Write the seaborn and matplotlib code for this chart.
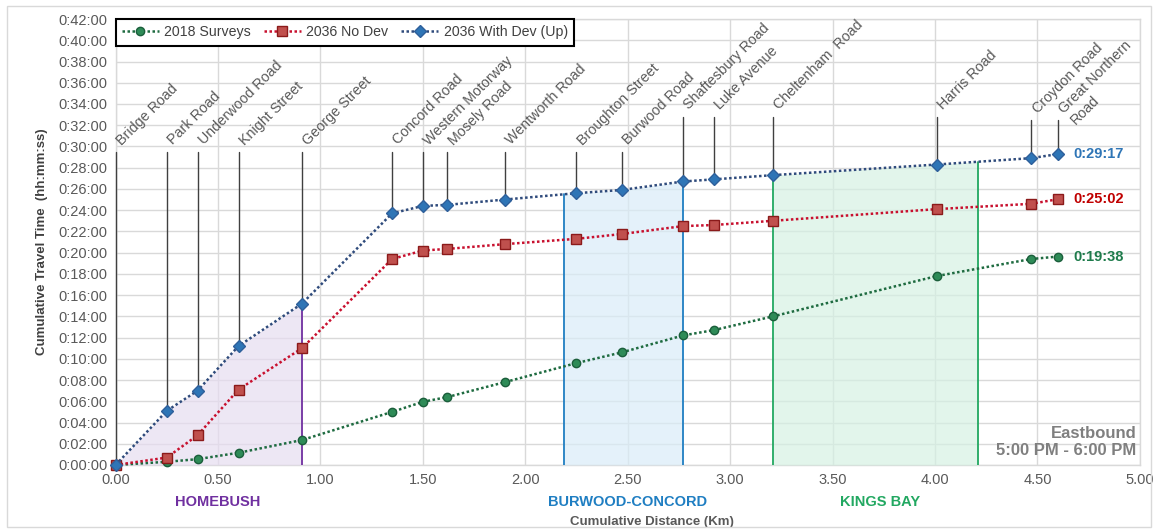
import numpy as np
import pandas as pd
import matplotlib
matplotlib.use("Agg")
import matplotlib.pyplot as plt
import seaborn as sns
from matplotlib.ticker import FuncFormatter, MultipleLocator
from matplotlib.patches import Rectangle

# ---------------- data ----------------
stations = ["Bridge Road", "Park Road", "Underwood Road", "Knight Street", "George Street",
            "Concord Road", "Western Motorway", "Mosely Road", "Wentworth Road",
            "Broughton Street", "Burwood Road", "Shaftesbury Road", "Luke Avenue",
            "Cheltenham  Road", "Harris Road", "Croydon Road", "Great Northern\nRoad"]
distance_km = [0.00, 0.25, 0.40, 0.60, 0.91, 1.35, 1.50, 1.62, 1.90,
               2.25, 2.47, 2.77, 2.92, 3.21, 4.01, 4.47, 4.60]
surveys_2018_min = [0.0, 0.3, 0.55, 1.15, 2.35, 5.0, 5.95, 6.4, 7.8,
                    9.6, 10.6, 12.2, 12.7, 14.0, 17.8, 19.4, 19.63]
no_dev_2036_min = [0.0, 0.7, 2.8, 7.1, 11.0, 19.4, 20.2, 20.35, 20.8,
                   21.3, 21.75, 22.5, 22.6, 23.0, 24.1, 24.6, 25.03]
with_dev_2036_min = [0.0, 5.1, 7.0, 11.2, 15.2, 23.7, 24.4, 24.5, 25.0,
                     25.6, 25.9, 26.7, 26.9, 27.3, 28.3, 28.9, 29.28]
series_names = ["2018 Surveys", "2036 No Dev", "2036 With Dev (Up)"]
final_labels = ["0:19:38", "0:25:02", "0:29:17"]

zone_names = ["HOMEBUSH", "BURWOOD-CONCORD", "KINGS BAY"]
zone_start_km = [0.00, 2.19, 3.21]
zone_end_km = [0.91, 2.77, 4.21]

# ---------------- styles ----------------
sns.set_theme(style="whitegrid")
plt.rcParams["font.family"] = ["Liberation Sans", "DejaVu Sans"]

line_colors = ["#1E6B40", "#C8102E", "#2F4B7C"]
marker_face = ["#2E8B57", "#C0504D", "#2E75B6"]
marker_edge = ["#1B5E3B", "#8B1A1A", "#2E5F9A"]
markers = ["o", "s", "D"]
msizes = [6, 7, 6]
label_colors = ["#1E7B4B", "#C00000", "#2E75B6"]
zone_line_colors = ["#7030A0", "#1F7EC2", "#22A861"]
zone_fill_colors = ["#E6DDF0", "#D9ECF8", "#D6F1E3"]

fig = plt.figure(figsize=(11.56, 5.29), dpi=100)
ax = fig.add_axes([0.100, 0.121, 0.886, 0.843])
ax.set_facecolor("white")

x = np.array(distance_km)
blue = np.array(with_dev_2036_min)

# zone shading under the "with dev" curve
for name, s, e, lc, fc in zip(zone_names, zone_start_km, zone_end_km, zone_line_colors, zone_fill_colors):
    xs = np.concatenate([[s], x[(x > s) & (x < e)], [e]])
    ys = np.interp(xs, x, blue)
    ax.fill_between(xs, 0, ys, color=fc, alpha=0.7, zorder=1, linewidth=0)
    for xb in (s, e):
        if xb > 0:
            ax.plot([xb, xb], [0, np.interp(xb, x, blue)], color=lc, lw=1.3, zorder=3)
    ax.text((s + e) / 2 + (0.045 if s == 0 else 0.02), -0.082, name,
            transform=ax.get_xaxis_transform(),
            ha="center", va="center", color=lc, fontsize=10.5, fontweight="bold")

# station leader lines and labels
fs_st = 10.3
for st, xd, yb in zip(stations, distance_km, with_dev_2036_min):
    top = 29.5 if xd < 2.6 else (32.8 if xd < 4.3 else 32.5)
    ax.plot([xd, xd], [yb, top], color="#404040", lw=1.0, zorder=3, clip_on=False)
    lh = fs_st * 1.15
    for k, part in enumerate(st.split("\n")):
        off = (k * lh * np.sin(np.pi / 4), -k * lh * np.cos(np.pi / 4))
        ax.annotate(part, (xd + 0.03, top + 0.6), xytext=off, textcoords="offset points",
                    rotation=45, rotation_mode="anchor", ha="left", va="baseline",
                    fontsize=fs_st, color="#595959", zorder=5)

# series
series = [surveys_2018_min, no_dev_2036_min, with_dev_2036_min]
for i, (name, vals) in enumerate(zip(series_names, series)):
    df = pd.DataFrame({"km": distance_km, "min": vals})
    sns.lineplot(data=df, x="km", y="min", ax=ax, color=line_colors[i], linestyle=(0, (1, 1)),
                 lw=1.8, marker=markers[i], markersize=msizes[i], markerfacecolor=marker_face[i],
                 markeredgecolor=marker_edge[i], markeredgewidth=1.0, label=name, zorder=4 + i,
                 sort=False, estimator=None, clip_on=False)
    ax.annotate(final_labels[i], (distance_km[-1], vals[-1]), xytext=(11, 0),
                textcoords="offset points", ha="left", va="center", color=label_colors[i],
                fontsize=10.5, fontweight="bold")

# axes
ax.set_xlim(0, 5)
ax.set_ylim(0, 42)
ax.xaxis.set_major_locator(MultipleLocator(0.5))
ax.yaxis.set_major_locator(MultipleLocator(2))
ax.xaxis.set_major_formatter(FuncFormatter(lambda v, p: f"{v:.2f}"))
ax.yaxis.set_major_formatter(FuncFormatter(lambda v, p: f"0:{int(round(v)):02d}:00"))
ax.tick_params(axis="both", labelsize=10.5, colors="#595959", length=0, pad=6)
ax.grid(True, color="#D9D9D9", lw=1.0)
for sp in ax.spines.values():
    sp.set_color("#D9D9D9")
    sp.set_linewidth(1.0)
    sp.set_zorder(0.5)

ax.set_xlabel("")
ax.set_ylabel("Cumulative Travel Time  (hh:mm:ss)", fontsize=9.5, fontweight="bold",
              color="#404040", labelpad=7)
ax.text(0.524, -0.128, "Cumulative Distance (Km)", transform=ax.transAxes, ha="center",
        va="center", fontsize=9.5, fontweight="bold", color="#595959")

ax.text(0.997, 0.016, "Eastbound\n5:00 PM - 6:00 PM", transform=ax.transAxes, ha="right",
        va="bottom", multialignment="right", fontsize=12, fontweight="bold", color="#7F7F7F",
        linespacing=1.15, zorder=6)

leg = ax.legend(loc="upper left", bbox_to_anchor=(0, 1), borderaxespad=0, ncol=3,
                frameon=True, fancybox=False, framealpha=1, edgecolor="black",
                fontsize=10.2, handlelength=2.6, columnspacing=0.9, handletextpad=0.4,
                borderpad=0.45)
leg.get_frame().set_linewidth(1.5)
for t in leg.get_texts():
    t.set_color("#404040")
leg.set_zorder(10)

fig.patches.append(Rectangle((0.006, 0.004), 0.99, 0.984, transform=fig.transFigure,
                             fill=False, edgecolor="#D9D9D9", lw=1.0))

fig.savefig("out.png", dpi=100, facecolor="white")
